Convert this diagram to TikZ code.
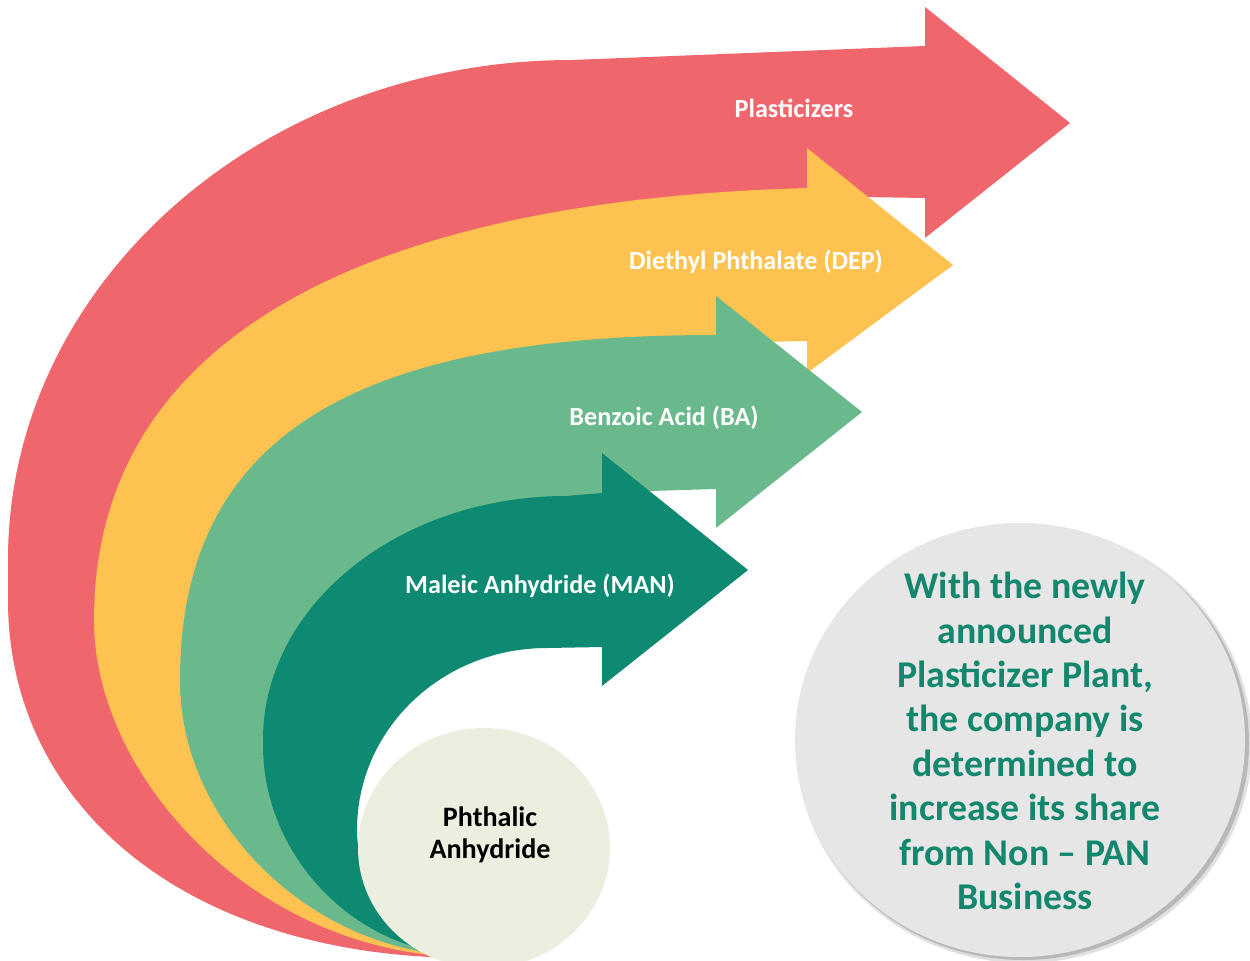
\documentclass[tikz,border=0pt]{standalone}
\usepackage{fontspec}
\setmainfont{Carlito}
\definecolor{cred}{RGB}{240,102,109}
\definecolor{cyel}{RGB}{253,194,80}
\definecolor{cgrn}{RGB}{106,185,140}
\definecolor{cdgr}{RGB}{14,137,114}
\definecolor{ccir}{RGB}{235,239,223}
\definecolor{cgray}{RGB}{230,230,230}
\definecolor{ctext}{RGB}{18,135,110}
\begin{document}
\begin{tikzpicture}[x=0.02cm,y=-0.02cm,
  lbl/.style={text=white,font=\bfseries\fontsize{14.9}{18}\selectfont,anchor=base,inner sep=0pt}]
\useasboundingbox (0,0) rectangle (1250,960);
% red arrow (Plasticizers)
\fill[cred] (925,7) -- (1070,123) -- (925,238) -- (925,198) -- (862,197) -- (807,208)
  .. controls (385,220) and (114,340) .. (114,620)
  .. controls (114,775) and (265,937) .. (470,937)
  -- (470,958)
  .. controls (185,958) and (8,805) .. (8,600)
  -- (8,560)
  .. controls (8,284) and (261,60) .. (572,60)
  -- (925,46) -- cycle;
% yellow arrow (DEP)
\fill[cyel] (807,148) -- (953,265) -- (807,373) -- (807,341) -- (760,342) -- (716,355)
  .. controls (385,355) and (200,430) .. (200,680)
  .. controls (200,825) and (325,936) .. (470,936)
  -- (470,957)
  .. controls (260,957) and (94,780) .. (94,620)
  .. controls (94,330) and (380,200) .. (807,188)
  -- cycle;
% light green arrow (BA)
\fill[cgrn] (716,296) -- (862,412) -- (716,528) -- (716,489) -- (650,491) -- (602,510) -- (566,516)
  .. controls (410,516) and (283,616) .. (283,740)
  -- (283,745)
  .. controls (283,850) and (365,935) .. (470,935)
  -- (470,956)
  .. controls (320,956) and (180,830) .. (180,680)
  .. controls (180,420) and (380,335) .. (716,335)
  -- cycle;
% dark green arrow (MAN)
\fill[cdgr] (602,453) -- (748,570) -- (602,686) -- (602,647) -- (547,648)
  .. controls (442,648) and (357,729) .. (357,830)
  .. controls (357,902) and (426,960) .. (511,960)
  -- (470,955)
  .. controls (360,955) and (263,860) .. (263,745)
  -- (263,740)
  .. controls (263,605) and (399,496) .. (566,496)
  -- (602,493) -- cycle;
% labels
\node[lbl] (plast) at (794,117) {Plasticizers};
\node[lbl] (dep) at (756,269) {Diethyl Phthalate (DEP)};
\node[lbl] (ba) at (664,425) {Benzoic Acid (BA)};
\node[lbl] (man) at (540,593) {Maleic Anhydride (MAN)};
% phthalic anhydride circle
\fill[ccir] (484,848) ellipse [x radius=126, y radius=120];
\node[align=center,font=\bfseries\fontsize{16}{18.2}\selectfont,text=black,inner sep=0pt] (pan) at (490,835) {Phthalic\\Anhydride};
% grey circle with shadow
\fill[black,opacity=0.12] (1024,744) ellipse [x radius=228, y radius=219];
\fill[black,opacity=0.18] (1023,743) ellipse [x radius=226, y radius=217];
\fill[cgray] (1020,740) ellipse [x radius=225, y radius=217];
\node[align=center,font=\bfseries\fontsize{21.5}{25.3}\selectfont,text=ctext,inner sep=0pt] (msg) at (1025,741)
  {With the newly\\announced\\Plasticizer Plant,\\the company is\\determined to\\increase its share\\from Non -- PAN\\Business};
\end{tikzpicture}
\end{document}
